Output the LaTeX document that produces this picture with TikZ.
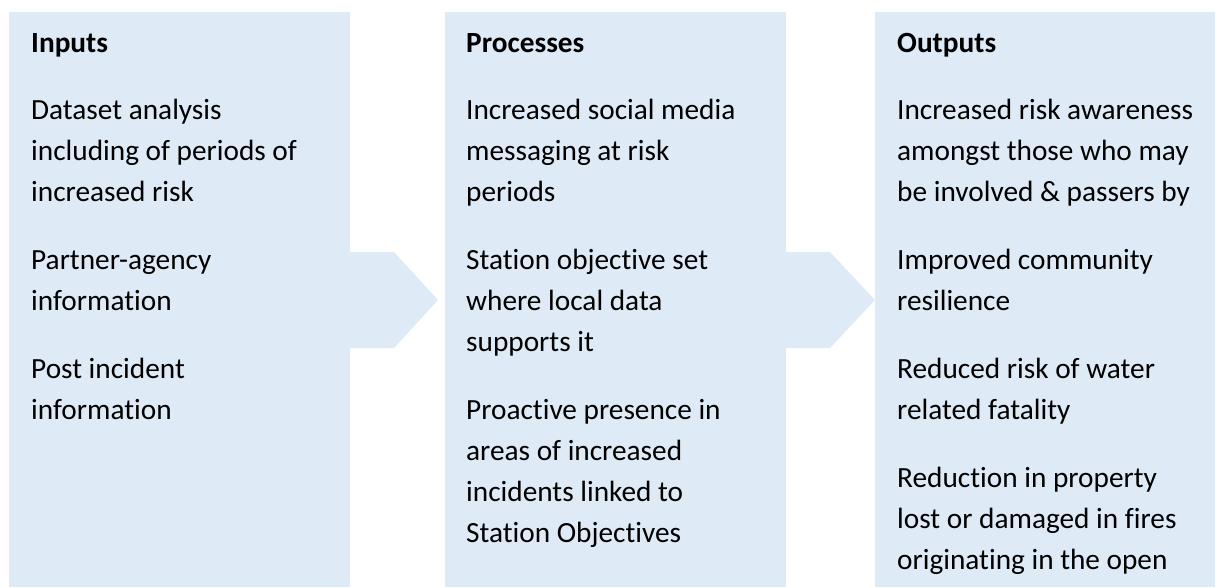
\documentclass[tikz,border=0pt]{standalone}
\usepackage{fontspec}
\setmainfont{Carlito}[Ligatures=NoCommon]
\begin{document}
\begin{tikzpicture}[x=1pt,y=-1pt,
  panel/.style={fill=boxblue,draw=none},
  chev/.style={fill=boxblue,draw=none},
  txt/.style={anchor=base west,inner sep=0pt,font=\fontsize{29.3}{41}\selectfont},
  head/.style={txt,font=\fontsize{29.3}{41}\selectfont\bfseries}]
\definecolor{boxblue}{HTML}{DEEAF6}
\useasboundingbox (0,0) rectangle (1219,587);
% panels
\fill[panel] (9,12) rectangle (350,587);
\fill[panel] (445,12) rectangle (786,587);
\fill[panel] (875,12) rectangle (1215,587);
% chevrons
\fill[chev] (350,252) -- (394,252) -- (438,300) -- (394,348) -- (350,348) -- cycle;
\fill[chev] (786,252) -- (830,252) -- (875,300) -- (830,348) -- (786,348) -- cycle;
% Inputs
\node[head] (ih) at (31,52) {Inputs};
\node[txt] (i1) at (31,119) {Dataset analysis};
\node[txt] (i2) at (31,160) {including of periods of};
\node[txt] (i3) at (31,201) {increased risk};
\node[txt] (i4) at (31,269) {Partner-agency};
\node[txt] (i5) at (31,310) {information};
\node[txt] (i6) at (31,378) {Post incident};
\node[txt] (i7) at (31,419) {information};
% Processes
\node[head] (ph) at (466,52) {Processes};
\node[txt] (p1) at (466,119) {Increased social media};
\node[txt] (p2) at (466,160) {messaging at risk};
\node[txt] (p3) at (466,201) {periods};
\node[txt] (p4) at (466,269) {Station objective set};
\node[txt] (p5) at (466,310) {where local data};
\node[txt] (p6) at (466,351) {supports it};
\node[txt] (p7) at (466,419) {Proactive presence in};
\node[txt] (p8) at (466,460) {areas of increased};
\node[txt] (p9) at (466,501) {incidents linked to};
\node[txt] (p10) at (466,542) {Station Objectives};
% Outputs
\node[head] (oh) at (897,52) {Outputs};
\node[txt] (o1) at (897,119) {Increased risk awareness};
\node[txt] (o2) at (897,160) {amongst those who may};
\node[txt] (o3) at (897,201) {be involved \& passers by};
\node[txt] (o4) at (897,269) {Improved community};
\node[txt] (o5) at (897,310) {resilience};
\node[txt] (o6) at (897,378) {Reduced risk of water};
\node[txt] (o7) at (897,419) {related fatality};
\node[txt] (o8) at (897,487) {Reduction in property};
\node[txt] (o9) at (897,528) {lost or damaged in fires};
\node[txt] (o10) at (897,569) {originating in the open};
\end{tikzpicture}
\end{document}
